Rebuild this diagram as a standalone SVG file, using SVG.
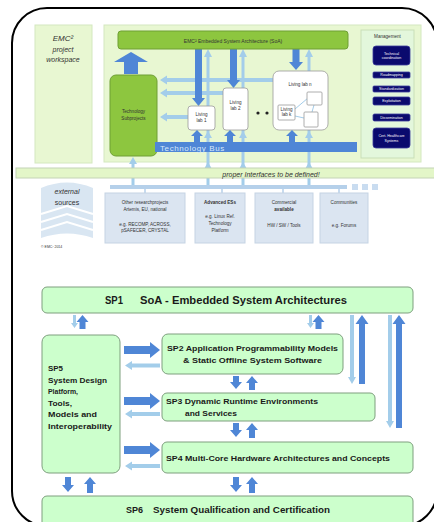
<svg xmlns="http://www.w3.org/2000/svg" width="434" height="522" viewBox="0 0 434 522">
<defs>
<style>
.frame{fill:none;stroke:#000;stroke-width:2}
.pan{fill:#e8f7d2;stroke:#d4e8bf;stroke-width:1}
.mgmt{fill:#e3f7dc;stroke:#c9dfb8;stroke-width:1}
.gr{fill:#8dc63f;stroke:#6f9f35;stroke-width:1}
.mi{fill:#0a0a6e;stroke:#3a3a9a;stroke-width:0.8}
.lab{fill:#fff;stroke:#9a9a9a;stroke-width:0.8}
.src{fill:#dbe5f1;stroke:#c5d3e3;stroke-width:1}
.db{fill:#4f86d6}
.lb{fill:#a3cdea}
.lbl{stroke:#a3cdea;stroke-width:1;fill:none}
.sp{fill:#ccffcc;stroke:#7f9f7f;stroke-width:1}
.t{font-family:"Liberation Sans",Arial,sans-serif;fill:#333}
.tb{font-family:"Liberation Sans",Arial,sans-serif;font-weight:bold;fill:#1a1a1a}
.tw{font-family:"Liberation Sans",Arial,sans-serif;fill:#fff;font-size:3.6px;text-anchor:middle}
.ts{font-family:"Liberation Sans",Arial,sans-serif;fill:#333;font-size:4.6px;text-anchor:middle}
</style>
</defs>

<rect class="frame" x="12" y="8" width="425" height="518" rx="35"/>

<!-- top workspace -->
<g id="workspace">
<rect class="pan" x="35" y="25" width="57" height="138"/>
<text class="t" x="63" y="41" font-size="8" font-style="italic" text-anchor="middle" fill="#666">EMC²</text>
<text class="t" x="63" y="52" font-size="7" font-style="italic" text-anchor="middle" fill="#666">project</text>
<text class="t" x="63" y="62" font-size="7" font-style="italic" text-anchor="middle" fill="#666">workspace</text>
</g>
<g id="main-panel">
<rect class="pan" x="104" y="25" width="317" height="137"/>
</g>

<g id="connectors-top">
<!-- light blue vertical lines -->
<path class="lb" d="M131.5,187 V164 H129 L133,157 L137,164 H134.5 V187 Z"/>
<path class="lb" d="M206.5,187 V57 H204 L208,49 L212,57 H209.5 V187 Z"/>
<path class="lb" d="M241.5,187 V57 H239 L243,49 L247,57 H244.5 V187 Z"/>
<path class="lb" d="M307.5,187 V57 H305 L309,49 L313,57 H310.5 V187 Z"/>
<path class="lb" d="M239,138 L243,131 L247,138 Z M305,138 L309,131 L313,138 Z M204,138 L208,131 L212,138 Z"/>
<path class="lb" d="M204,169 L208,162 L212,169 Z M239,169 L243,162 L247,169 Z M305,169 L309,162 L313,169 Z"/>
<!-- left arrows to tech subprojects -->
<path class="lb" d="M273,78 H167 V75.5 L160,80 L167,84.5 V82 H273 Z"/>
<path class="lb" d="M223,91 H167 V88.5 L160,93 L167,97.5 V95 H223 Z"/>
<path class="lb" d="M188,115 H167 V112.5 L160,117 L167,121.5 V119 H188 Z"/>
<!-- dark blue down arrows -->
<path class="db" d="M195,49 V98 H192 L198.5,106 L205,98 H202 V49 Z"/>
<path class="db" d="M230,49 V80 H227 L233.5,88 L240,80 H237 V49 Z"/>
<path class="db" d="M292.5,49 V62 H289 L296,70 L303,62 H299.5 V49 Z"/>
<!-- big up arrow -->
<path class="db" d="M124,74 V62 H114 L131,52 L148,62 H138 V74 Z"/>
</g>

<g id="soa-bar">
<rect class="gr" x="118" y="31" width="230" height="18" rx="3"/>
<text class="t" x="233" y="42.5" font-size="5" text-anchor="middle" fill="#2a3a10">EMC² Embedded System Architecture (SoA)</text>
</g>

<g id="tech-subprojects">
<rect class="gr" x="110" y="75" width="47" height="81" rx="6"/>
<text class="ts" x="133.5" y="113">Technology</text>
<text class="ts" x="133.5" y="120">Subprojects</text>
</g>

<g id="living-lab-1">
<rect class="lab" x="188" y="106" width="27" height="24" rx="3"/>
<text class="ts" x="201.5" y="116">Living</text>
<text class="ts" x="201.5" y="122">lab 1</text>
</g>
<g id="living-lab-2">
<rect class="lab" x="223" y="88" width="25" height="42" rx="3"/>
<text class="ts" x="235.5" y="104">Living</text>
<text class="ts" x="235.5" y="110">lab 2</text>
</g>
<g id="dots">
<circle cx="258" cy="113" r="1.6" fill="#222"/>
<circle cx="267" cy="113" r="1.6" fill="#222"/>
</g>
<g id="living-lab-n">
<rect class="lab" x="273" y="71" width="55" height="59" rx="6"/>
<text class="ts" x="300" y="86">Living lab n</text>
<path class="lbl" d="M295,109 L308,98 M295,116 L304,118 M314,105 L312,112"/>
<rect class="lab" x="278" y="105" width="17" height="15" rx="1"/>
<text class="ts" x="286.5" y="111" font-size="3.8">Living</text>
<text class="ts" x="286.5" y="116" font-size="3.8">lab k</text>
<rect class="lab" x="307" y="92" width="15" height="13" rx="1"/>
<rect class="lab" x="304" y="112" width="14" height="15" rx="1"/>
</g>

<g id="technology-bus">
<rect class="db" x="155" y="142" width="202" height="10"/>
<text x="160" y="150.5" font-family="Liberation Sans,Arial,sans-serif" font-size="8" letter-spacing="0.6" fill="#d6e8fb">Technology Bus</text>
<path class="db" d="M194,142 V136 H191 L197,130 L203,136 H200 V142 Z"/>
<path class="db" d="M227,142 V136 H224 L230,130 L236,136 H233 V142 Z"/>
<path class="db" d="M289,142 V136 H286 L292,130 L298,136 H295 V142 Z"/>
</g>

<g id="management">
<rect class="mgmt" x="361" y="30" width="53" height="128"/>
<text class="ts" x="387.5" y="38" font-size="4" fill="#555">Management</text>
<rect class="mi" x="373" y="46" width="37" height="19" rx="3"/>
<text class="tw" x="391.5" y="54.5">Technical</text>
<text class="tw" x="391.5" y="59">coordination</text>
<rect class="mi" x="373" y="72" width="37" height="6" rx="1"/>
<text class="tw" x="391.5" y="76.3">Roadmapping</text>
<rect class="mi" x="373" y="86" width="37" height="6" rx="1"/>
<text class="tw" x="391.5" y="90.3">Standardization</text>
<rect class="mi" x="373" y="97" width="37" height="8" rx="1.5"/>
<text class="tw" x="391.5" y="102.3">Exploitation</text>
<rect class="mi" x="373" y="114" width="37" height="7" rx="1.5"/>
<text class="tw" x="391.5" y="118.8">Dissemination</text>
<rect class="mi" x="373" y="128" width="37" height="20" rx="3"/>
<text class="tw" x="391.5" y="137">Cert. Healthcare</text>
<text class="tw" x="391.5" y="141.5">Systems</text>
</g>

<g id="interfaces-bar">
<rect x="16" y="168" width="420" height="10" fill="#e3f6c8" stroke="#c4d4b6" stroke-width="1"/>
<text class="t" x="271" y="176.5" font-size="7" font-style="italic" text-anchor="middle" fill="#3a3a3a">proper Interfaces to be defined!</text>
</g>

<g id="sources-bar">
<rect x="110" y="185" width="237" height="4" fill="#b5d0ea"/>
<rect x="352" y="184" width="6" height="6" fill="#c9dcf0"/>
<rect x="362" y="184" width="6" height="6" fill="#c9dcf0"/>
<rect x="372" y="184" width="6" height="6" fill="#c9dcf0"/>
<path d="M145,189 V193 M222,189 V193 M283,189 V193 M339,189 V193" stroke="#b5d0ea" stroke-width="1.5"/>
</g>

<g id="external-sources">
<path d="M41,188 Q67,177 93,188 V238 Q67,229 41,238 Z" fill="#d9e6f2"/>
<path d="M41,214 L67,206 L93,214 M41,222 L67,214 L93,222 M41,230 L67,222 L93,230" stroke="#fff" stroke-width="2" fill="none"/>
<text class="t" x="67" y="194" font-size="7" font-style="italic" text-anchor="middle" fill="#2f3f5a">external</text>
<text class="t" x="67" y="205" font-size="7" text-anchor="middle" fill="#2f3f5a">sources</text>
<text class="t" x="41" y="248" font-size="3.5" fill="#888">© EMC² 2014</text>
</g>

<g id="source-research">
<rect class="src" x="105" y="193" width="80" height="50"/>
<text class="ts" x="145" y="204">Other researchprojects</text>
<text class="ts" x="145" y="211">Artemis, EU, national</text>
<text class="ts" x="145" y="226">e.g. RECOMP, ACROSS,</text>
<text class="ts" x="145" y="232">pSAFECER, CRYSTAL</text>
</g>
<g id="source-advanced">
<rect class="src" x="195" y="193" width="50" height="50"/>
<text class="ts" x="220" y="204" font-weight="bold">Advanced ESs</text>
<text class="ts" x="220" y="218">e.g. Linux Ref.</text>
<text class="ts" x="220" y="225">Technology</text>
<text class="ts" x="220" y="232">Platform</text>
</g>
<g id="source-commercial">
<rect class="src" x="255" y="193" width="58" height="50"/>
<text class="ts" x="284" y="204">Commercial</text>
<text class="ts" x="284" y="211" font-weight="bold">available</text>
<text class="ts" x="284" y="227">HW / SW / Tools</text>
</g>
<g id="source-communities">
<rect class="src" x="320" y="193" width="48" height="50"/>
<text class="ts" x="344" y="204">Communities</text>
<text class="ts" x="344" y="227">e.g. Forums</text>
</g>

<!-- bottom diagram -->
<g id="sp1">
<rect class="sp" x="42" y="287" width="371" height="26" rx="5"/>
<text class="tb" x="105" y="304" font-size="10.5" textLength="18" lengthAdjust="spacingAndGlyphs">SP1</text>
<text class="tb" x="140" y="304" font-size="10.5" textLength="207" lengthAdjust="spacingAndGlyphs">SoA - Embedded System Architectures</text>
</g>
<g id="sp5">
<rect class="sp" x="42" y="335" width="78" height="138" rx="7"/>
<text class="tb" x="48" y="371" font-size="8" textLength="15" lengthAdjust="spacingAndGlyphs">SP5</text>
<text class="tb" x="48" y="382.5" font-size="8" textLength="59" lengthAdjust="spacingAndGlyphs">System Design</text>
<text class="tb" x="48" y="394" font-size="8" textLength="30" lengthAdjust="spacingAndGlyphs">Platform,</text>
<text class="tb" x="48" y="405.5" font-size="8" textLength="24" lengthAdjust="spacingAndGlyphs">Tools,</text>
<text class="tb" x="48" y="417" font-size="8" textLength="49" lengthAdjust="spacingAndGlyphs">Models and</text>
<text class="tb" x="48" y="428.5" font-size="8" textLength="64" lengthAdjust="spacingAndGlyphs">Interoperability</text>
</g>
<g id="sp2">
<rect class="sp" x="162" y="334" width="181" height="40" rx="6"/>
<text class="tb" x="167" y="351" font-size="8" textLength="171" lengthAdjust="spacingAndGlyphs">SP2 Application Programmability Models</text>
<text class="tb" x="183" y="362.5" font-size="8" textLength="139" lengthAdjust="spacingAndGlyphs">&amp; Static Offline System Software</text>
</g>
<g id="sp3">
<rect class="sp" x="162" y="393" width="213" height="28" rx="5"/>
<text class="tb" x="166" y="403.5" font-size="8" textLength="152" lengthAdjust="spacingAndGlyphs">SP3 Dynamic Runtime Environments</text>
<text class="tb" x="185" y="416" font-size="8" textLength="52" lengthAdjust="spacingAndGlyphs">and Services</text>
</g>
<g id="sp4">
<rect class="sp" x="162" y="442" width="251" height="31" rx="5"/>
<text class="tb" x="166" y="461" font-size="8" textLength="224" lengthAdjust="spacingAndGlyphs">SP4 Multi-Core Hardware Architectures and Concepts</text>
</g>
<g id="sp6">
<rect class="sp" x="42" y="496" width="371" height="32" rx="5"/>
<text class="tb" x="126" y="512.5" font-size="8.5" textLength="17" lengthAdjust="spacingAndGlyphs">SP6</text>
<text class="tb" x="153" y="512.5" font-size="8.5" textLength="177" lengthAdjust="spacingAndGlyphs">System Qualification and Certification</text>
</g>

<g id="connectors-bottom">
<!-- below SP1 small pairs -->
<path class="lb" d="M73,315 V323 H71 L74.5,328 L78,323 H76 V315 Z"/>
<path class="db" d="M79.5,329 V322 H76.5 L82.5,315 L88.5,322 H85.5 V329 Z"/>
<path class="lb" d="M309,315 V323 H307 L310.5,328 L314,323 H312 V315 Z"/>
<path class="db" d="M315.5,329 V322 H312.5 L318.5,315 L324.5,322 H321.5 V329 Z"/>
<!-- long pairs -->
<path class="lb" d="M350,315 V377 H348 L352,384 L356,377 H354 V315 Z"/>
<path class="db" d="M359,384 V324 H355.5 L362,315 L368.5,324 H365 V384 Z"/>
<path class="lb" d="M388,315 V421 H386 L390,428 L394,421 H392 V315 Z"/>
<path class="db" d="M396,428 V324 H392.5 L399,315 L405.5,324 H402 V428 Z"/>
<!-- SP5 to SP2/3/4 -->
<path class="db" d="M124,346 H150 V342 L160,350 L150,358 V354 H124 Z"/>
<path class="lb" d="M160,363.5 H132 V361 L125,365.5 L132,370 V367.5 H160 Z"/>
<path class="db" d="M124,397 H150 V393 L160,401 L150,409 V405 H124 Z"/>
<path class="lb" d="M160,412 H132 V409.5 L125,414 L132,418.5 V416 H160 Z"/>
<path class="db" d="M124,446 H150 V442 L160,450 L150,458 V454 H124 Z"/>
<path class="lb" d="M160,464 H132 V461.5 L125,466 L132,470.5 V468 H160 Z"/>
<!-- vertical pairs -->
<path class="db" d="M233,376 V382 H230 L236,389 L242,382 H239 V376 Z"/>
<path class="db" d="M249,390 V383 H246 L252,376 L258,383 H255 V390 Z"/>
<path class="db" d="M233,423 V430 H230 L236,437 L242,430 H239 V423 Z"/>
<path class="db" d="M249,438 V430 H246 L252,423 L258,430 H255 V438 Z"/>
<path class="db" d="M233,477 V485 H230 L236,492 L242,485 H239 V477 Z"/>
<path class="db" d="M249,493 V484 H246 L252,477 L258,484 H255 V493 Z"/>
<path class="db" d="M65,477 V485 H62 L68,492 L74,485 H71 V477 Z"/>
<path class="db" d="M87,493 V484 H84 L90,477 L96,484 H93 V493 Z"/>
</g>
</svg>
